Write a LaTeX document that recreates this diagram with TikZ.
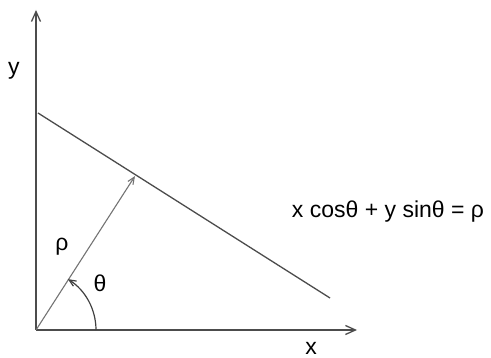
\documentclass[tikz,border=0pt]{standalone}
\usepackage{fontspec}
\setmainfont{Liberation Sans}
\usetikzlibrary{arrows.meta}
\begin{document}
\begin{tikzpicture}[x=1pt,y=-1pt,
  axis/.style={draw=black!70,line width=1.3pt,-{Straight Barb[length=10pt,width=9pt]}},
  lbl/.style={font=\fontsize{23}{27}\selectfont,inner sep=0pt},
  thin arrow/.style={draw=black!55,line width=1.1pt,-{Straight Barb[length=7pt,width=6pt]}}]
\useasboundingbox (0,0) rectangle (491,358);
\coordinate (O) at (36,330);
\coordinate (Ytop) at (36,10);
\coordinate (Xend) at (357,330);
\coordinate (L1) at (38,113);
\coordinate (L2) at (330,298);
\coordinate (F) at (135,176);
\draw[axis] (O) -- (Ytop);
\draw[axis] (O) -- (Xend);
\draw[draw=black!70,line width=1.3pt] (L1) -- (L2);
\draw[thin arrow] (O) -- (F);
\draw[draw=black!75,line width=1.2pt,-{Straight Barb[length=7pt,width=6pt]}] (96,330) arc[start angle=0,end angle=-58,radius=60];
\node[lbl] (ylab) at (14,71) {y};
\node[lbl] (xlab) at (311,348) {x};
\node[lbl] (rholab) at (62,247) {ρ};
\node[lbl] (thetalab) at (100,283) {θ};
\node[lbl] (eq) at (388,212) {x cosθ + y sinθ = ρ};
\end{tikzpicture}
\end{document}
